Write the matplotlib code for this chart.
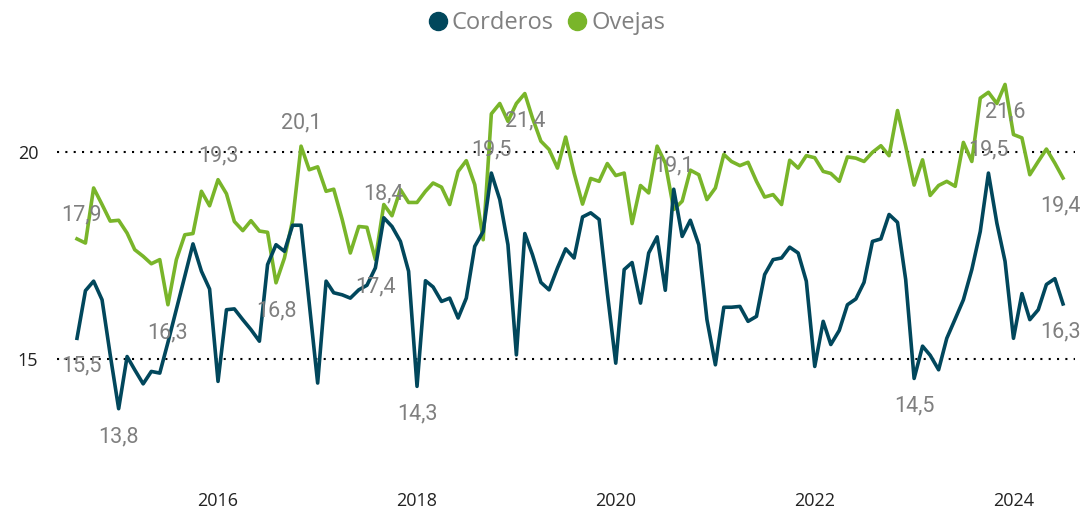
import matplotlib
matplotlib.use("Agg")
import matplotlib.pyplot as plt
import matplotlib.dates as mdates
from matplotlib.lines import Line2D
import pandas as pd

# monthly series, Aug 2014 - Jul 2024
meses = pd.date_range("2014-08-01", periods=120, freq="MS")

corderos = [
    15.5, 16.65, 16.88, 16.43, 15.1, 13.8, 15.06, 14.74, 14.4, 14.7,
    14.66, 15.4, 16.2, 17.0, 17.78, 17.12, 16.69, 14.46, 16.19, 16.21,
    15.95, 15.71, 15.43, 17.28, 17.76, 17.6, 18.23, 18.23, 16.35, 14.42,
    16.88, 16.6, 16.55, 16.47, 16.67, 16.78, 17.2, 18.41, 18.2, 17.84,
    17.12, 14.34, 16.89, 16.74, 16.39, 16.47, 15.99, 16.47, 17.72, 18.08,
    19.49, 18.85, 17.76, 15.1, 18.03, 17.52, 16.85, 16.67, 17.2, 17.66,
    17.44, 18.43, 18.53, 18.37, 16.6, 14.9, 17.16, 17.33, 16.35, 17.56,
    17.95, 16.66, 19.1, 17.96, 18.35, 17.76, 15.95, 14.86, 16.25, 16.25,
    16.27, 15.91, 16.03, 17.04, 17.4, 17.44, 17.7, 17.56, 16.88, 14.82,
    15.91, 15.35, 15.69, 16.31, 16.45, 16.85, 17.84, 17.9, 18.49, 18.3,
    16.92, 14.53, 15.31, 15.09, 14.74, 15.5, 15.97, 16.43, 17.16, 18.08,
    19.49, 18.28, 17.36, 15.5, 16.58, 15.95, 16.19, 16.8, 16.94, 16.33,
]

ovejas = [
    17.9, 17.8, 19.13, 18.73, 18.33, 18.35, 18.04, 17.64, 17.48, 17.3,
    17.4, 16.31, 17.4, 18.0, 18.03, 19.05, 18.7, 19.33, 18.99, 18.32,
    18.1, 18.34, 18.09, 18.06, 16.84, 17.44, 18.35, 20.14, 19.57, 19.64,
    19.05, 19.1, 18.37, 17.56, 18.2, 18.18, 17.4, 18.73, 18.46, 19.09,
    18.78, 18.78, 19.05, 19.25, 19.15, 18.73, 19.53, 19.79, 19.21, 17.88,
    20.92, 21.17, 20.74, 21.17, 21.41, 20.82, 20.26, 20.06, 19.61, 20.36,
    19.49, 18.74, 19.36, 19.29, 19.72, 19.43, 19.49, 18.27, 19.19, 19.01,
    20.14, 19.73, 18.61, 18.81, 19.56, 19.45, 18.85, 19.13, 19.94, 19.77,
    19.67, 19.75, 19.29, 18.91, 18.97, 18.73, 19.8, 19.61, 19.91, 19.86,
    19.53, 19.48, 19.29, 19.88, 19.85, 19.77, 19.99, 20.15, 19.91, 21.0,
    20.14, 19.2, 19.81, 18.95, 19.19, 19.29, 19.17, 20.23, 19.77, 21.3,
    21.44, 21.17, 21.63, 20.42, 20.34, 19.45, 19.77, 20.07, 19.73, 19.37,
]

# which points carry a data label: (index, 'up' / 'down')
etiquetas_corderos = [(0, "down"), (5, "down"), (37, "up"), (41, "down"), (50, "up"),
                      (72, "up"), (101, "down"), (110, "up"), (119, "down")]
etiquetas_ovejas = [(0, "up"), (11, "down"), (17, "up"), (24, "down"), (27, "up"),
                    (36, "down"), (54, "down"), (112, "down"), (119, "down")]

c_corderos = "#01475C"
c_ovejas = "#79B52A"
gris = "#7f7f7f"

fig = plt.figure(figsize=(10.87, 5.13), dpi=100)
ax = fig.add_axes([57 / 1087, 43 / 513, 1018 / 1087, 410 / 513])

ax.plot(meses, ovejas, color=c_ovejas, lw=2.6)
ax.plot(meses, corderos, color=c_corderos, lw=2.6)

# data labels
def poner_etiquetas(serie, lista):
    for i, donde in lista:
        dy = 17 if donde == "up" else -20
        dx = 0
        if i == 0:
            dx = 3.5
        elif i == len(serie) - 1:
            dx = -2
        txt = f"{serie[i]:.1f}".replace(".", ",")
        ax.annotate(txt, (meses[i], serie[i]), xytext=(dx, dy), textcoords="offset points",
                    ha="center", va="center", color=gris, fontsize=15.5, family="Roboto")

poner_etiquetas(corderos, etiquetas_corderos)
poner_etiquetas(ovejas, etiquetas_ovejas)

ax.set_ylim(12.32, 22.22)
x0 = mdates.date2num(meses[0])
ax.set_xlim(x0 - 73.5, x0 + 3666)

ax.set_yticks([15, 20])
ax.yaxis.grid(True, color="black", linestyle=(0, (1, 3)), linewidth=1.5)
ax.xaxis.set_major_locator(mdates.YearLocator(2))
ax.xaxis.set_major_formatter(mdates.DateFormatter("%Y"))
ax.tick_params(axis="both", length=0, labelsize=13, labelcolor="#222222")
ax.tick_params(axis="y", pad=13.5)
ax.tick_params(axis="x", pad=16)
for lab in ax.get_xticklabels() + ax.get_yticklabels():
    lab.set_family("Open Sans")
for s in ax.spines.values():
    s.set_visible(False)

handles = [Line2D([], [], marker="o", linestyle="none", markersize=13, color=c_corderos),
           Line2D([], [], marker="o", linestyle="none", markersize=13, color=c_ovejas)]
fig.legend(handles, ["Corderos", "Ovejas"], loc="center", bbox_to_anchor=(0.503, 0.955),
           ncol=2, frameon=False, handlelength=0.8, handletextpad=0.2, columnspacing=0.6,
           prop={"family": "Open Sans", "size": 17}, labelcolor="#808080")

fig.savefig("out.png", dpi=100)
